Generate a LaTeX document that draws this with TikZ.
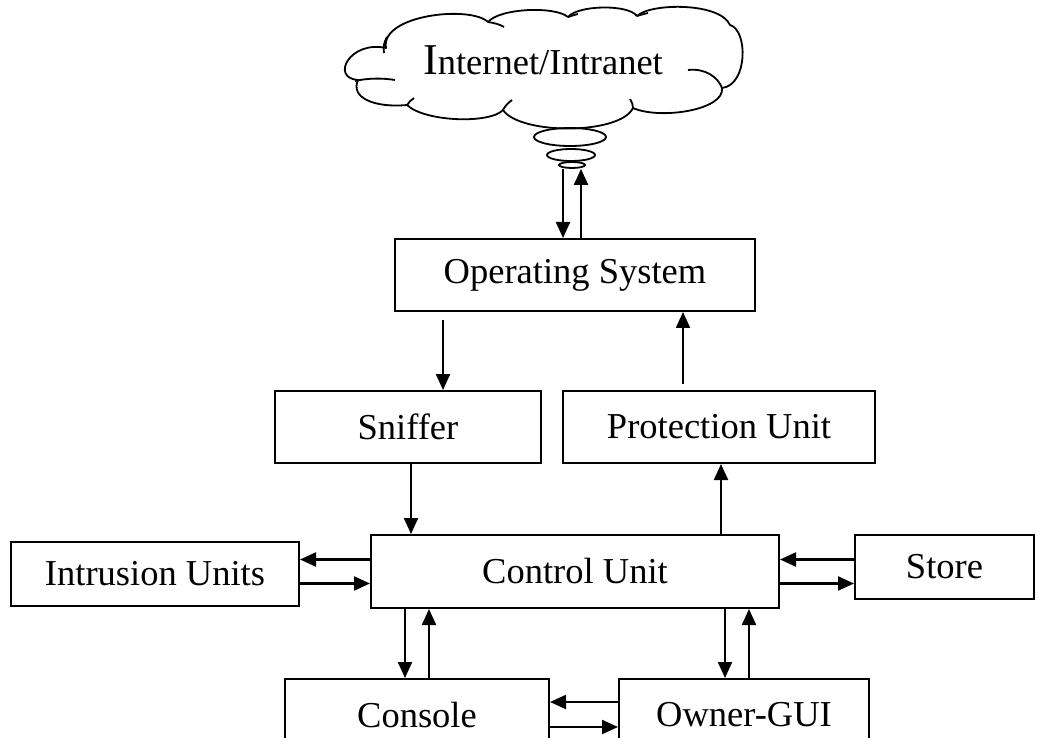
\documentclass[tikz,border=0pt]{standalone}
\usepackage{fontspec}
\setmainfont{Liberation Serif}
\usetikzlibrary{positioning, arrows.meta, shapes.geometric}
\tikzset{%
	>={Triangle[length=16pt, width=14pt]},
	every edge/.append style={line width = 2.2pt},
	blk/.style = {name = #1, rectangle, draw, line width = 2pt, minimum height = 72pt, inner sep = 0pt, font = \fontsize{36.5}{40}\selectfont},
	bub/.style = {name = #1, ellipse, draw, line width = 1.8pt, inner sep = 0pt},
	puff/.style = {line width = 1.8pt, line join = round}
}

\begin{document}
\begin{tikzpicture}[x=1pt, y=-1pt]
	\useasboundingbox (0,0) rectangle (1037,738);
	\clip (0,0) rectangle (1037,738);
	% cloud
	\draw [puff] (358,80) .. controls (330,78) and (350,40) .. (386,48)
		.. controls (380,15) and (470,5) .. (488,22)
		.. controls (500,8) and (555,6) .. (568,17)
		.. controls (578,5) and (628,4) .. (637,16)
		.. controls (650,3) and (720,2) .. (730,25)
		.. controls (748,30) and (748,85) .. (722,88)
		.. controls (725,110) and (660,120) .. (633,108)
		.. controls (620,135) and (520,135) .. (503,110)
		.. controls (490,124) and (425,122) .. (407,105)
		.. controls (375,108) and (350,98) .. cycle;
	\draw [puff] (384,53) .. controls (383,47) and (384,42) .. (387,37);
	\draw [puff] (488,22) .. controls (494,23) and (499,24) .. (504,27);
	\draw [puff] (568,17) .. controls (571,16) and (574,15) .. (578,14);
	\draw [puff] (637,16) .. controls (640,15) and (644,14) .. (648,13);
	\draw [puff] (688,70) .. controls (705,68) and (718,77) .. (722,88);
	\draw [puff] (355,81) .. controls (368,78) and (383,78) .. (395,80);
	\draw [puff] (407,105) .. controls (409,102) and (411,100) .. (414,98);
	\draw [puff] (503,110) .. controls (505,106) and (508,103) .. (512,100);
	\draw [puff] (633,108) .. controls (633,105) and (632,102) .. (630,99);
	\node [font = \fontsize{36.5}{40}\selectfont] (net) at (543,60) {{\fontsize{44}{48}\selectfont I}nternet/Intranet};
	\node [bub = {b1}, minimum width = 72pt, minimum height = 18pt] at (570,137) {};
	\node [bub = {b2}, minimum width = 48pt, minimum height = 12pt] at (571,155) {};
	\node [bub = {b3}, minimum width = 26pt, minimum height = 6pt] at (572,165) {};
	% boxes
	\node [blk = {os}, minimum width = 360pt] at (575,275) {Operating System};
	\node [blk = {snf}, minimum width = 266pt] at (408,427) {Sniffer};
	\node [blk = {pu}, minimum width = 312pt] at (719,427) {Protection Unit};
	\node [blk = {cu}, minimum width = 408pt, minimum height = 73pt] at (575,571.5) {Control Unit};
	\node [blk = {iu}, minimum width = 288pt, minimum height = 64pt] at (155,574) {Intrusion Units};
	\node [blk = {st}, minimum width = 179pt, minimum height = 64pt] at (944.5,567) {Store};
	\node [blk = {con}, minimum width = 264pt] at (417,715) {Console};
	\node [blk = {og}, minimum width = 250pt] at (744,715) {Owner-GUI};
	% arrows
	\path [->] ([xshift=-9pt]b3.south) edge ([xshift=-12pt]os.north);
	\path [->] ([xshift=6pt]os.north) edge ([xshift=9pt]b3.south);
	\path [->, shorten <=8pt] ([xshift=-132pt]os.south) edge ([xshift=35pt]snf.north);
	\path [->, shorten <=6pt] ([xshift=-36pt]pu.north) edge ([xshift=108pt]os.south);
	\path [->] ([xshift=3pt]snf.south) edge ([xshift=-164pt]cu.north);
	\path [->] ([xshift=146pt]cu.north) edge ([xshift=2pt]pu.south);
	\path [->] ([yshift=12pt]cu.west) edge ([yshift=14.5pt]iu.east);
	\path [->] ([yshift=-9.5pt]iu.east) edge ([yshift=-12pt]cu.west);
	\path [->] ([yshift=7.5pt]st.west) edge ([yshift=12pt]cu.east);
	\path [->] ([yshift=-12pt]cu.east) edge ([yshift=-16.5pt]st.west);
	\path [->] ([xshift=-170pt]cu.south) edge ([xshift=-12pt]con.north);
	\path [->] ([xshift=12pt]con.north) edge ([xshift=-146pt]cu.south);
	\path [->] ([xshift=150pt]cu.south) edge ([xshift=-19pt]og.north);
	\path [->] ([xshift=5pt]og.north) edge ([xshift=174pt]cu.south);
	\path [->] ([yshift=13pt]og.west) edge ([yshift=13pt]con.east);
	\path [->] ([yshift=-12pt]con.east) edge ([yshift=-12pt]og.west);
\end{tikzpicture}
\end{document}
